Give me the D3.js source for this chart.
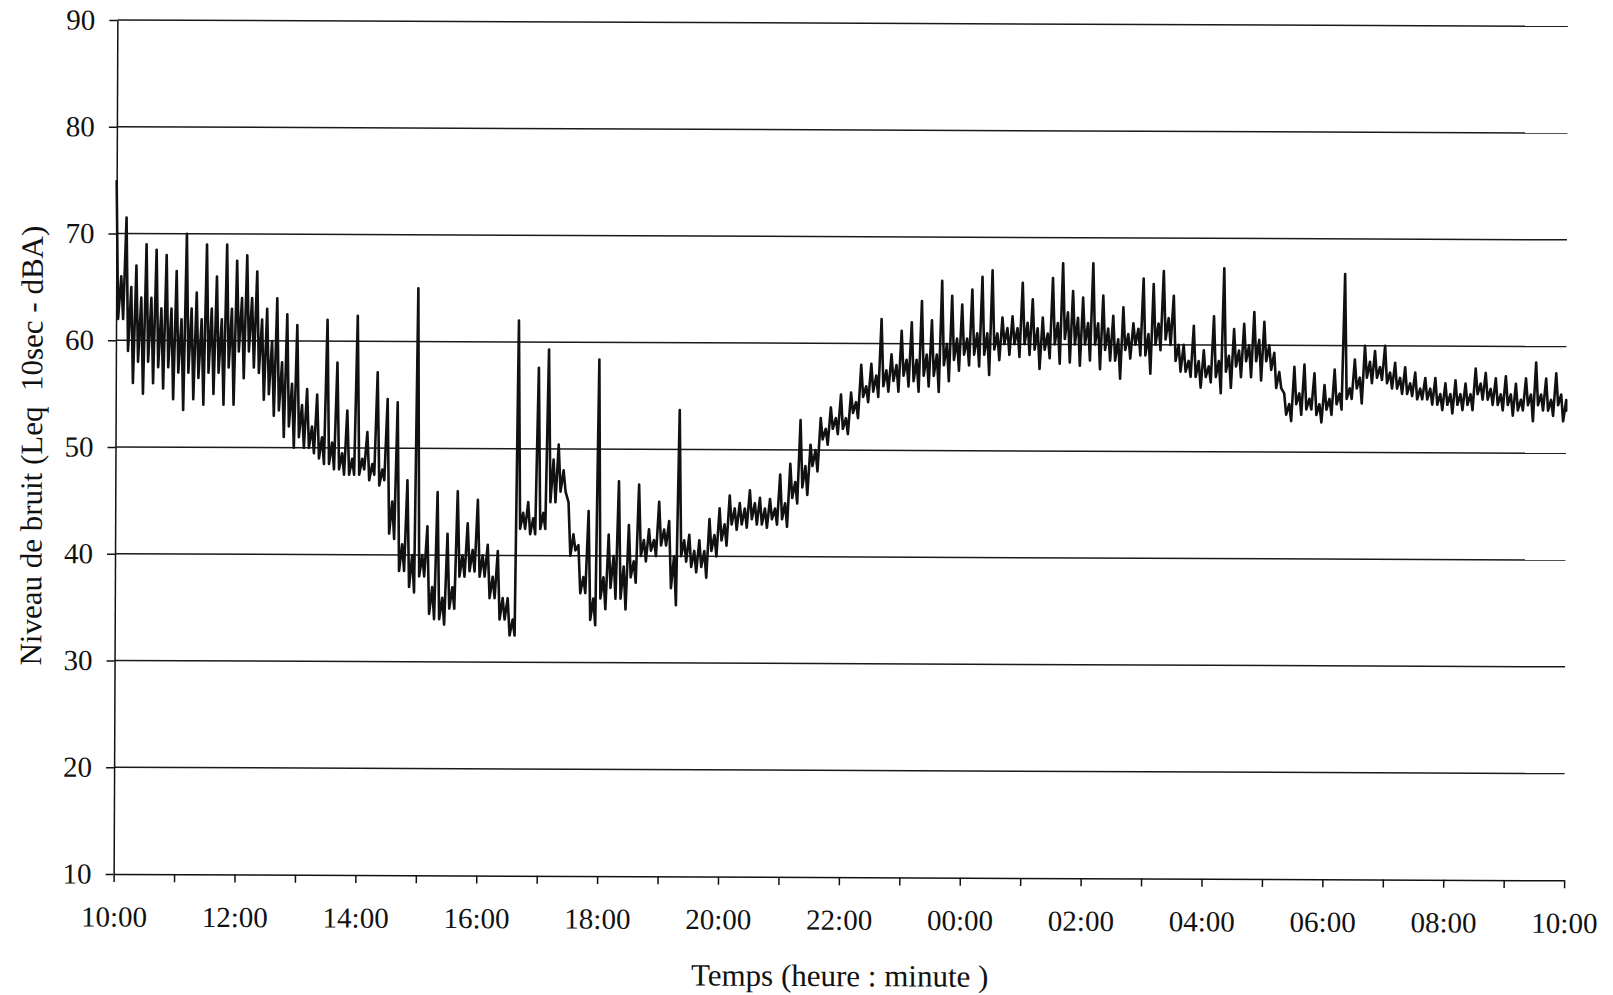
<!DOCTYPE html>
<html>
<head>
<meta charset="utf-8">
<script src="https://cdn.jsdelivr.net/npm/d3@7"></script>
<style>
  body { margin: 0; background: #fff; }
  svg text { font-family: "Liberation Serif", "Times New Roman", serif; fill: #111; }
</style>
</head>
<body>
<div id="chart"></div>
<script>
// Leq 10 sec (dBA), every 10 minutes, 10:00 -> 10:00 next day
// upper/lower = peaks and troughs of the trace, coreHigh/coreLow = edges of the dense band
const upperEnvelope = [
  75, 71.5, 67, 69, 68.5, 68, 66.5, 70, 64.5, 69, 66, 69, 67.5, 68, 66.5, 63, 64, 62.5, 61.5, 55.5, 55, 62, 58, 53.5,
  62.4, 51.5, 57.1, 54.6, 54.3, 47, 65, 42.7, 45.9, 42, 46, 43, 45.2, 41, 40.4, 36, 62, 45, 57.6, 59.3, 50.4, 45, 41, 44.2,
  58.4, 42, 47, 42.9, 46.7, 42.5, 45.1, 43.3, 53.7, 42, 41.5, 43.5, 44.5, 45.7, 45, 46.2, 45.5, 45.4, 47.7, 48.7, 52.8, 50.5, 53, 54,
  55.2, 55.4, 58, 58.1, 62.3, 59, 61.2, 62, 64, 62.2, 65.9, 64.5, 63.7, 65.1, 66.3, 66.9, 62.5, 62.6, 65.75, 64.2, 62.5, 66.2, 67.6, 65,
  64.4, 67.6, 64.6, 62.7, 63.5, 62, 66.2, 65.7, 66.9, 64.6, 60, 61.8, 59.5, 62.7, 67.2, 61.5, 62, 63.1, 62.2, 59.3, 55.5, 58, 58.2, 57.4,
  56.3, 57.75, 66.7, 58.7, 60, 59.5, 60, 58.4, 58, 57.5, 57, 57, 56.5, 56.8, 56.5, 57.9, 57.5, 57, 57.2, 56.5, 57, 58.5, 57, 57.5, 55
]
const coreHigh = [
  66, 65, 64, 64, 63, 63, 62, 63, 62, 63, 62, 63, 64, 64, 62, 60, 58, 56, 54, 52, 51, 50.5, 49.5, 49,
  49, 48.5, 48, 45, 41, 40, 40, 37, 36, 37, 40, 40.5, 40, 38, 36, 34, 44, 43.5, 44, 49, 48, 42, 38, 36,
  38, 40, 39, 39.5, 41.5, 41.5, 42.5, 40, 41.5, 40.5, 40.5, 42, 43, 44.5, 44.5, 45, 44.5, 44.5, 45, 47, 48.5, 50, 52, 53,
  53, 54.5, 56, 57, 57.5, 58, 58.5, 58.5, 59, 59, 60, 60.5, 60.5, 61, 61, 61, 61.5, 61.5, 62, 61.5, 61, 62, 63, 62.5,
  62, 62, 61.5, 60.5, 61, 61.5, 61, 62, 62.5, 60, 58.5, 58.5, 58, 58.5, 59, 59.5, 60, 60.5, 60, 57.5, 54.5, 55.5, 55, 54.5,
  55, 55.5, 56, 57, 58.5, 58, 57.5, 57, 56.5, 56, 56, 55.5, 55.5, 55.5, 55.5, 56.5, 56, 55.5, 55.5, 55, 55.5, 55.5, 55, 55.5, 54.5
]
const coreLow = [
  62, 59, 58, 58, 57.5, 57.5, 57, 57, 56.5, 57, 57, 57.5, 59, 59, 57, 55, 53.5, 52, 51, 50, 49, 48.5, 48, 47.5,
  47.5, 47, 46.5, 42, 38.5, 37, 38, 34.5, 34, 35, 38, 38.5, 38, 36, 34, 32.5, 42.5, 42, 42.5, 45, 46, 40, 36.5, 34,
  36, 37, 36, 38, 40, 40.5, 41, 37, 40, 39, 39, 40.5, 41.5, 43, 43, 43.5, 43, 43.5, 43.5, 45.5, 46.5, 48.5, 51, 52,
  52, 53.5, 55, 55.5, 56, 56.5, 57, 56.5, 57, 57, 58, 58.5, 59, 59, 59, 59.5, 60, 60, 60, 59.5, 59.5, 60, 60.5, 60,
  60, 60, 59.5, 58.5, 59.5, 60, 59, 60, 60.5, 58.5, 57.5, 57, 57, 57, 57.5, 58, 58.5, 58.5, 58.5, 56, 53.5, 54.5, 54, 53.5,
  54, 54.5, 55, 56, 57, 57, 56.5, 56, 55.5, 55, 55, 54.5, 54.5, 54.5, 54.5, 55.5, 55, 54.5, 54.5, 54, 54.5, 54.5, 54, 54.5, 54
]
const lowerEnvelope = [
  62, 56, 55, 56, 55.5, 54.5, 53.5, 54.5, 54, 55, 54, 54, 56.5, 57.5, 54.5, 53, 51, 50, 50, 49.5, 48.5, 48, 47.5, 47.5,
  48, 47.5, 47, 41.5, 38.5, 36.5, 38, 34, 33.5, 35, 38, 38.5, 38, 36, 34, 32.5, 42.5, 42, 42.5, 45, 46, 40.5, 36.5, 33.5,
  35, 36, 35, 37.5, 39.5, 40, 41, 35.4, 39.5, 38.5, 38, 40, 41, 42.5, 42.7, 43, 42.7, 43, 42.8, 45, 45.8, 48, 50.5, 51.5,
  51.5, 53, 54.5, 55, 55.5, 55.5, 56, 55.5, 56, 55.5, 56.5, 57.5, 58, 57.9, 57.1, 58.5, 59, 58.8, 59, 57.7, 58.7, 58.2, 58.3, 58,
  58.5, 57.7, 58.5, 56.8, 58.7, 59, 57.3, 59.5, 60, 57.5, 57, 56, 56.5, 55.5, 56, 57, 57, 56.7, 57.7, 56, 52.9, 53.5, 54, 52.8,
  53.5, 54, 55, 54.6, 56.5, 56.8, 56, 55.5, 55.3, 55, 54.5, 54, 53.7, 54, 54, 55, 54.5, 54, 53.5, 54, 53, 54, 53.5, 53, 54
]
const yTicks = [10, 20, 30, 40, 50, 60, 70, 80, 90]
const startTime = new Date(2000, 0, 1, 10, 0)
const endTime = new Date(2000, 0, 2, 10, 0)
const stepMinutes = 10

const width = 1613
const height = 995
const plot = { left: 115.5, right: 1566, top: 20, bottom: 874 }

const svg = d3.select('#chart')
  .append('svg')
  .attr('width', width)
  .attr('height', height)
  .style('display', 'block')

svg.append('rect')
  .attr('width', width)
  .attr('height', height)
  .attr('fill', '#fff')

// the scanned page is slightly tilted
const g = svg.append('g')
  .attr('transform', `rotate(0.25, ${plot.left}, 447)`)

const x = d3.scaleTime()
  .domain([startTime, endTime])
  .range([plot.left, plot.right])

const y = d3.scaleLinear()
  .domain([10, 90])
  .range([plot.bottom, plot.top])

// Horizontal gridlines
g.append('g')
  .selectAll('line')
  .data(yTicks.filter(d => d > 10))
  .join('line')
  .attr('x1', plot.left)
  .attr('x2', plot.right)
  .attr('y1', d => y(d))
  .attr('y2', d => y(d))
  .attr('stroke', '#1a1a1a')
  .attr('stroke-width', 1.5)

// Y axis
const yAxis = g.append('g')
  .attr('transform', `translate(${plot.left},0)`)
  .call(d3.axisLeft(y).tickValues(yTicks).tickSize(8).tickSizeOuter(0).tickPadding(14))
yAxis.attr('font-family', null).attr('font-size', 29)
yAxis.selectAll('path, line').attr('stroke', '#111').attr('stroke-width', 1.5)

// X axis: a tick every hour, a label every two hours
const fmt = d3.timeFormat('%H:%M')
const xAxis = g.append('g')
  .attr('transform', `translate(0,${plot.bottom})`)
  .call(d3.axisBottom(x)
    .ticks(d3.timeHour.every(1))
    .tickSize(8)
    .tickSizeOuter(0)
    .tickPadding(24)
    .tickFormat(d => d.getHours() % 2 === 0 ? fmt(d) : ''))
xAxis.attr('font-family', null).attr('font-size', 29)
xAxis.selectAll('path, line').attr('stroke', '#111').attr('stroke-width', 1.5)

// Trace: peak, band bottom, band top, trough in each 10-minute step
const points = []
const at = (t, m) => {
  const d = d3.timeMinute.offset(t, m)
  return d > endTime ? endTime : d
}
upperEnvelope.forEach((v, i) => {
  const t = d3.timeMinute.offset(startTime, i * stepMinutes)
  points.push({ t, v })
  points.push({ t: at(t, 2.5), v: coreLow[i] })
  points.push({ t: at(t, 5), v: coreHigh[i] })
  points.push({ t: at(t, 7.5), v: lowerEnvelope[i] })
})

const line = d3.line()
  .x(d => x(d.t))
  .y(d => y(d.v))

g.append('path')
  .datum(points)
  .attr('d', line)
  .attr('fill', 'none')
  .attr('stroke', '#111')
  .attr('stroke-width', 2.6)
  .attr('stroke-linejoin', 'round')

// Axis titles
g.append('text')
  .attr('transform', 'translate(42,446) rotate(-90)')
  .attr('text-anchor', 'middle')
  .attr('font-size', 31)
  .style('white-space', 'pre')
  .text('Niveau de bruit (Leq  10sec - dBA)')

g.append('text')
  .attr('x', 842)
  .attr('y', 983)
  .attr('text-anchor', 'middle')
  .attr('font-size', 31)
  .style('white-space', 'pre')
  .text('Temps (heure : minute )')
</script>
</body>
</html>
